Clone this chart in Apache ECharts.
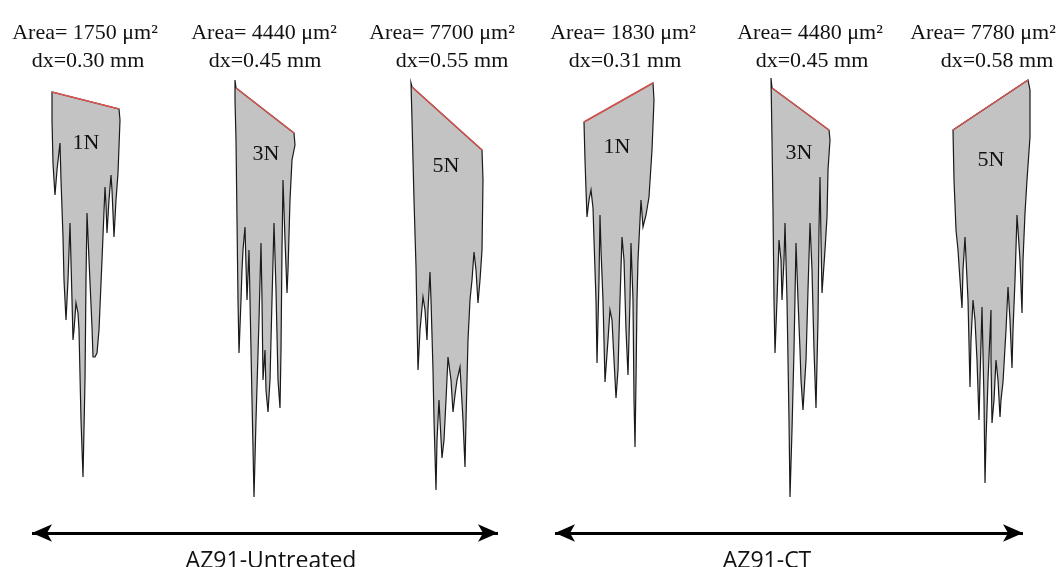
<!DOCTYPE html>
<html>
<head>
<meta charset="utf-8">
<script src="https://cdn.jsdelivr.net/npm/echarts@6/dist/echarts.min.js"></script>
<style>
html,body{margin:0;padding:0;background:#fff;}
#chart{width:1059px;height:567px;}
</style>
</head>
<body>
<div id="chart"></div>
<script>
// Profile outlines (virtual units: x across, y depth downward)
const profileUntreated1N = [[52,92],[119,109],[120,120],[118,173],[116,200],[114,237],[112,190],[111,175],[109,200],[107,233],[106,205],[105,187],[102,260],[99,330],[97,353],[95,357],[93,357],[92,327],[89,260],[87,213],[86,280],[85,380],[83,477],[81,420],[79,330],[78,313],[76,303],[74,330],[73,340],[72,300],[70,223],[68,280],[66,320],[64,280],[63,237],[61,180],[60,143],[57,170],[55,195],[54,180],[53,163],[52,120]];
const profileUntreated3N = [[235,80],[236,88],[294,133],[295,145],[292,160],[290,200],[288,270],[287,293],[285,240],[283,180],[282,250],[281,350],[280,408],[278,380],[276,290],[274,223],[272,300],[270,380],[268,412],[266,390],[265,350],[263,380],[262,300],[261,243],[259,320],[256,420],[254,497],[252,400],[250,300],[249,250],[247,300],[246,265],[245,227],[243,250],[242,270],[241,300],[239,353],[238,300],[237,220],[236,140],[235,100]];
const profileUntreated5N = [[411,83],[412,87],[482,150],[483,180],[482,250],[480,280],[478,303],[476,270],[474,252],[472,280],[470,300],[468,340],[466,420],[465,467],[463,420],[460,367],[457,380],[455,395],[453,412],[451,380],[448,357],[446,400],[444,440],[442,458],[440,420],[439,400],[437,440],[436,490],[434,420],[433,370],[431,300],[430,272],[428,310],[427,340],[425,310],[423,297],[420,330],[418,370],[417,320],[416,267],[414,200],[412,120]];
const profileCT1N = [[584,122],[653,83],[654,100],[652,150],[649,197],[646,215],[643,227],[641,200],[638,260],[637,300],[636,380],[635,447],[634,400],[633,300],[631,243],[630,300],[628,375],[626,330],[624,260],[622,237],[620,300],[618,370],[616,398],[614,360],[612,320],[610,310],[608,340],[605,382],[603,300],[601,250],[600,215],[599,280],[597,363],[596,300],[594,240],[593,208],[591,190],[589,200],[587,217],[586,190],[585,160]];
const profileCT3N = [[771,78],[772,88],[829,130],[830,140],[828,170],[827,217],[825,250],[822,293],[821,240],[820,177],[819,230],[818,320],[816,408],[814,350],[812,270],[810,223],[808,290],[806,360],[803,410],[801,380],[800,350],[798,300],[796,243],[794,350],[792,430],[790,497],[789,420],[787,300],[785,223],[784,260],[782,300],[781,260],[779,240],[777,300],[775,353],[774,300],[773,210],[772,140]];
const profileCT5N = [[953,130],[1028,80],[1030,90],[1030,137],[1027,180],[1025,213],[1023,260],[1022,313],[1020,260],[1017,215],[1015,280],[1013,330],[1012,368],[1010,320],[1008,287],[1006,330],[1003,382],[1001,400],[1000,417],[998,380],[996,360],[994,400],[992,423],[991,360],[991,310],[988,380],[986,440],[985,483],[984,400],[982,307],[980,380],[979,420],[977,360],[975,320],[973,300],[971,340],[970,387],[968,300],[965,237],[963,270],[962,308],[960,280],[958,250],[956,230],[954,180]];

// Original surface lines (red)
const surfaceUntreated1N = [[52,92],[119,109]];
const surfaceUntreated3N = [[236,88],[294,133]];
const surfaceUntreated5N = [[412,87],[482,150]];
const surfaceCT1N = [[584,122],[653,83]];
const surfaceCT3N = [[772,88],[829,130]];
const surfaceCT5N = [[953,130],[1028,80]];

// Texts
const loads = ['1N','3N','5N','1N','3N','5N'];
const areas = ['1750','4440','7700','1830','4480','7780'];
const widths = ['0.30','0.45','0.55','0.31','0.45','0.58'];
const groups = ['AZ91-Untreated','AZ91-CT'];

// Anchors for annotations
const loadAnchors = [[86,143],[266,154],[446,166],[617,147],[799,153],[991,160]];
const areaAnchors = [[85,33],[264,33],[442,33],[623,33],[810,33],[983,33]];
const dxAnchors = [[88,61],[265,61],[452,61],[625,61],[812,61],[997,61]];
const groupArrows = [[[32,533],[498,533]],[[555,533],[1023,533]]];
const groupLabelAnchors = [[271,561],[767,561]];

const profiles = [profileUntreated1N,profileUntreated3N,profileUntreated5N,profileCT1N,profileCT3N,profileCT5N];
const surfaces = [surfaceUntreated1N,surfaceUntreated3N,surfaceUntreated5N,surfaceCT1N,surfaceCT3N,surfaceCT5N];

const chart = echarts.init(document.getElementById('chart'));
const series = [];

profiles.forEach(function(p){
  series.push({
    type:'custom', silent:true, data:[[p[0][0],p[0][1]]],
    renderItem:function(params, api){
      return {type:'polygon', shape:{points:p.map(function(pt){return api.coord(pt);})},
        style:{fill:'#c3c3c3', stroke:'#1a1a1a', lineWidth:1.2}};
    }
  });
});
surfaces.forEach(function(s){
  series.push({type:'line', data:s, symbol:'none', silent:true,
    lineStyle:{color:'#d9534f', width:1.5}});
});

function textSeries(anchors, texts, font, size){
  return {
    type:'custom', silent:true, data:anchors.map(function(a,i){return [a[0],a[1],i];}),
    renderItem:function(params, api){
      const pt = api.coord([api.value(0), api.value(1)]);
      return {type:'text', x:pt[0], y:pt[1],
        style:{text:texts[api.value(2)], fill:'#111', font: size+'px '+font, align:'center', verticalAlign:'middle'}};
    }
  };
}
series.push(textSeries(loadAnchors, loads, '"Liberation Serif", serif', 22));
series.push(textSeries(areaAnchors, areas.map(function(a){return 'Area= '+a+' \u03bcm\u00b2';}), '"Liberation Serif", serif', 22));
series.push(textSeries(dxAnchors, widths.map(function(w){return 'dx='+w+' mm';}), '"Liberation Serif", serif', 22));
series.push(textSeries(groupLabelAnchors, groups, '"Open Sans", sans-serif', 23));

series.push({
  type:'line', data:[], silent:true,
  markLine:{silent:true, symbol:['arrow','arrow'], symbolSize:[13,20], label:{show:false},
    lineStyle:{color:'#000', width:3, type:'solid'},
    data: groupArrows.map(function(a){return [{coord:a[0]},{coord:a[1]}];})
  }
});

chart.setOption({
  animation:false,
  backgroundColor:'#fff',
  grid:{left:0,right:0,top:0,bottom:0},
  xAxis:{type:'value', min:0, max:1059, show:false},
  yAxis:{type:'value', min:0, max:567, inverse:true, show:false},
  series:series
});
</script>
</body>
</html>
